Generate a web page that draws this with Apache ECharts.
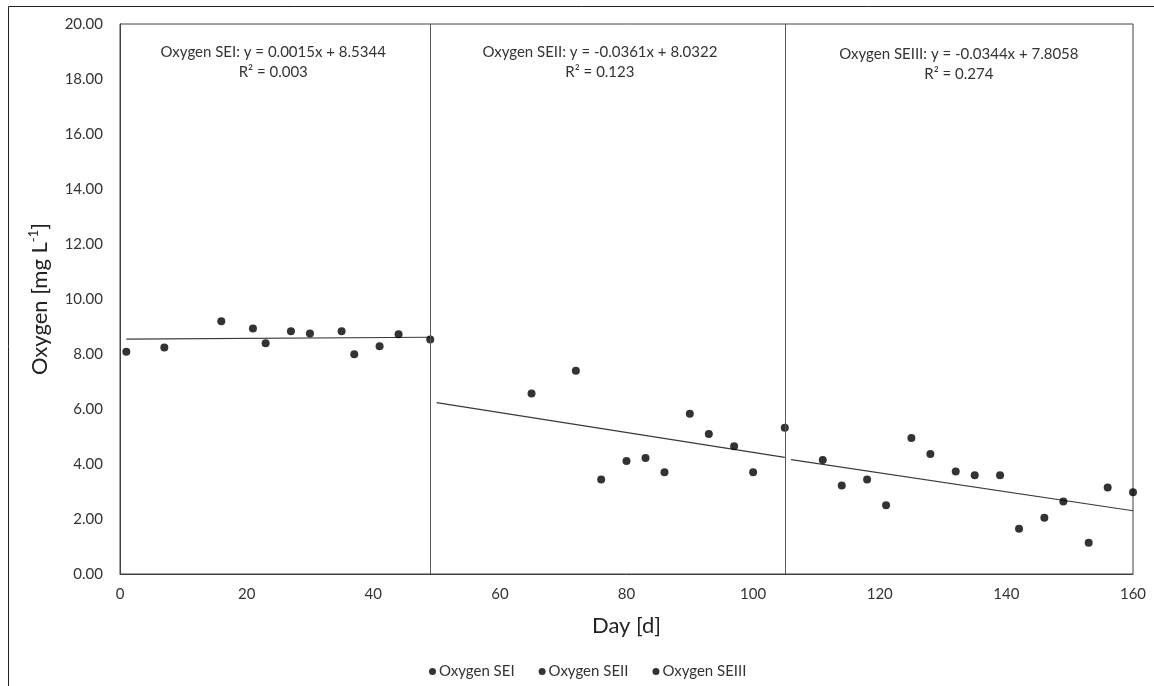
<!DOCTYPE html>
<html>
<head>
<meta charset="utf-8">
<script src="https://cdn.jsdelivr.net/npm/echarts@6/dist/echarts.min.js"></script>
<style>
  html, body { margin: 0; padding: 0; background: #fff; }
  #oxygen-chart { width: 1154px; height: 686px; }
</style>
</head>
<body>
<div id="oxygen-chart"></div>
<script>
// Measured points, day vs oxygen [mg/L]
const dayTicks = [0, 20, 40, 60, 80, 100, 120, 140, 160];
const oxygenTicks = [0, 2, 4, 6, 8, 10, 12, 14, 16, 18, 20];

const seiPoints = [
    [1, 8.08], [7, 8.24], [16, 9.19], [21, 8.93], [23, 8.39], [27, 8.83],
    [30, 8.75], [35, 8.83], [37, 7.99], [41, 8.28], [44, 8.72], [49, 8.53]
];
const seiiPoints = [
    [65, 6.56], [72, 7.39], [76, 3.44], [80, 4.11], [83, 4.22], [86, 3.70],
    [90, 5.83], [93, 5.09], [97, 4.65], [100, 3.70], [105, 5.32]
];
const seiiiPoints = [
    [111, 4.15], [114, 3.22], [118, 3.44], [121, 2.50], [125, 4.95], [128, 4.36],
    [132, 3.73], [135, 3.59], [139, 3.59], [142, 1.65], [146, 2.05], [149, 2.64],
    [153, 1.14], [156, 3.15], [160, 2.97]
];

// trend line end points, as drawn
const seiTrend = [[1, 8.54], [49, 8.61]];
const seiiTrend = [[50, 6.23], [105, 4.24]];
const seiiiTrend = [[106, 4.16], [160, 2.30]];

// phase boundaries
const phaseBreaks = [49, 105];

const seriesNames = ['Oxygen SEI', 'Oxygen SEII', 'Oxygen SEIII'];
const equations = [
    'Oxygen SEI: y = 0.0015x + 8.5344\nR² = 0.003',
    'Oxygen SEII: y = -0.0361x + 8.0322\nR² = 0.123',
    'Oxygen SEIII: y = -0.0344x + 7.8058\nR² = 0.274'
];
const equationAnchors = [[24.2, 18.6], [75.8, 18.6], [132.5, 18.55]];

const fontFamily = 'Lato, "Open Sans", sans-serif';

function trendSeries(points, idx) {
    return {
        name: seriesNames[idx] + ' trend',
        type: 'line',
        data: points,
        symbol: 'none',
        silent: true,
        lineStyle: { color: '#3a3a3a', width: 1.2 },
        z: 2,
        markPoint: {
            symbolSize: 0,
            silent: true,
            label: {
                show: true,
                formatter: equations[idx],
                color: '#333',
                fontSize: 15,
                fontFamily: fontFamily,
                lineHeight: 20,
                align: 'center'
            },
            data: [{ coord: equationAnchors[idx] }]
        }
    };
}

function scatterSeries(points, idx) {
    return {
        name: seriesNames[idx],
        type: 'scatter',
        data: points,
        symbol: 'circle',
        symbolSize: 8,
        itemStyle: { color: '#000' },
        z: 3
    };
}

const oxygenChart = echarts.init(document.getElementById('oxygen-chart'));
const oxygenOption = {
    animation: false,
    backgroundColor: '#fff',
    graphic: [{
        type: 'rect',
        shape: { x: 8.5, y: 6.5, width: 1300, height: 800 },
        style: { fill: 'none', stroke: '#222', lineWidth: 1 },
        silent: true
    }],
    legend: {
        data: seriesNames,
        left: 424,
        top: 659,
        icon: 'circle',
        itemWidth: 7,
        itemHeight: 7,
        itemGap: 24,
        textStyle: { color: '#333', fontSize: 15, fontFamily: fontFamily, padding: [0, 0, 0, -2] }
    },
    grid: {
        left: 120,
        right: 21,
        top: 24,
        bottom: 112,
        show: true,
        borderColor: '#404040',
        borderWidth: 1
    },
    xAxis: {
        type: 'value',
        min: dayTicks[0],
        max: dayTicks[dayTicks.length - 1],
        interval: 20,
        name: 'Day [d]',
        nameLocation: 'middle',
        nameGap: 41,
        nameTextStyle: { color: '#222', fontSize: 22, fontFamily: fontFamily },
        axisLine: { lineStyle: { color: '#404040' } },
        axisTick: { show: false },
        splitLine: { show: false },
        axisLabel: { color: '#333', fontSize: 15, fontFamily: fontFamily, margin: 13 }
    },
    yAxis: {
        type: 'value',
        min: oxygenTicks[0],
        max: oxygenTicks[oxygenTicks.length - 1],
        interval: 2,
        name: '{a|Oxygen [mg L}{s|-1}{a|]}',
        nameLocation: 'middle',
        nameGap: 68,
        nameTextStyle: {
            color: '#222',
            fontFamily: fontFamily,
            rich: {
                a: { fontSize: 22, fontFamily: fontFamily, color: '#222' },
                s: { fontSize: 13, fontFamily: fontFamily, color: '#222', padding: [0, 0, 12, 0] }
            }
        },
        axisLine: { show: true, lineStyle: { color: '#404040' } },
        axisTick: { show: false },
        splitLine: { show: false },
        axisLabel: {
            color: '#333',
            fontSize: 15,
            fontFamily: fontFamily,
            margin: 17,
            formatter: function (v) { return v.toFixed(2); }
        }
    },
    series: [
        scatterSeries(seiPoints, 0),
        scatterSeries(seiiPoints, 1),
        scatterSeries(seiiiPoints, 2),
        trendSeries(seiTrend, 0),
        trendSeries(seiiTrend, 1),
        trendSeries(seiiiTrend, 2),
        {
            name: 'phases',
            type: 'line',
            data: [],
            silent: true,
            markLine: {
                silent: true,
                symbol: 'none',
                label: { show: false },
                lineStyle: { color: '#595959', width: 1, type: 'solid' },
                data: phaseBreaks.map(function (d) { return { xAxis: d }; })
            }
        }
    ]
};
oxygenChart.setOption(oxygenOption);
</script>
</body>
</html>
